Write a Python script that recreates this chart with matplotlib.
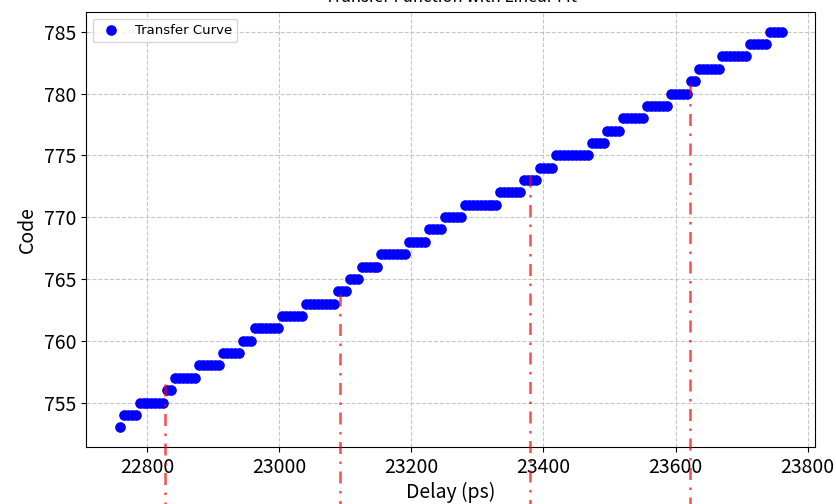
import numpy as np
import matplotlib.pyplot as plt

# delay sweep (ps) and the delays where the output code steps up
sweep_start = 22759
sweep_stop = 23762
sweep_step = 6
first_code = 753
step_delays = [22764, 22788, 22829, 22842, 22879, 22913, 22944, 22962, 23004, 23040,
               23087, 23105, 23123, 23154, 23196, 23226, 23250, 23279, 23333, 23370,
               23394, 23418, 23471, 23495, 23519, 23555, 23592, 23622, 23634, 23669,
               23711, 23743]

# red markers
mark_delay = [22828, 23093, 23380, 23622]
mark_code = [756.5, 763.8, 773.4, 780.8]

x_ticks = [22800, 23000, 23200, 23400, 23600, 23800]
y_ticks = [755, 760, 765, 770, 775, 780, 785]

delay = np.arange(sweep_start, sweep_stop, sweep_step)
code = first_code + np.searchsorted(step_delays, delay, side='right')

cjk = ['Noto Sans CJK SC', 'DejaVu Sans']

fig = plt.figure(figsize=(8.36, 5.04), dpi=100)
ax = fig.add_axes([0.1029, 0.1131, 0.872, 0.9762 - 0.1131])

ax.scatter(delay, code, s=44, color='blue', label='Transfer Curve', zorder=2)

for xd, yc in zip(mark_delay, mark_code):
    ax.plot([xd, xd], [yc, 745], color='red', alpha=0.7, lw=1.8,
            linestyle=(0, (4.8, 3, 1, 3)), clip_on=False, zorder=3)

ax.set_xlim(22708, 23811)
ax.set_ylim(751.4, 786.6)
ax.set_xticks(x_ticks)
ax.set_yticks(y_ticks)
for lab in ax.get_xticklabels() + ax.get_yticklabels():
    lab.set_family(cjk)
    lab.set_fontsize(14)

ax.set_xlabel('Delay (ps)', family=cjk, fontsize=14, labelpad=3)
ax.set_ylabel('Code', family=cjk, fontsize=14)
ax.set_title('Transfer Function with Linear Fit', family=cjk, fontsize=12, pad=7)
ax.grid(True, linestyle='--', alpha=0.7)
ax.legend(loc='upper left', fontsize=9.5)

plt.savefig('out.png', dpi=100)
